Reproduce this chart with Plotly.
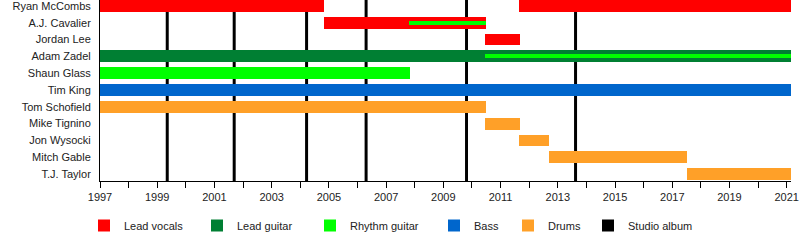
import plotly.graph_objects as go

# ---------------- data ----------------
members = ["Ryan McCombs", "A.J. Cavalier", "Jordan Lee", "Adam Zadel", "Shaun Glass",
           "Tim King", "Tom Schofield", "Mike Tignino", "Jon Wysocki", "Mitch Gable",
           "T.J. Taylor"]

START = 1997.0
END = 2021.15  # "present"

roles = ["Lead vocals", "Lead guitar", "Rhythm guitar", "Bass", "Drums"]
role_colors = ["#FF0000", "#007F33", "#00FF00", "#0066CC", "#FFA028"]

# main (thick) periods: member, start, end
vocal_member = ["Ryan McCombs", "A.J. Cavalier", "Jordan Lee", "Ryan McCombs"]
vocal_start = [1997.0, 2004.84, 2010.47, 2011.65]
vocal_end = [2004.84, 2010.48, 2011.67, END]

leadgtr_member = ["Adam Zadel"]
leadgtr_start = [1997.0]
leadgtr_end = [END]

rhythm_member = ["Shaun Glass"]
rhythm_start = [1997.0]
rhythm_end = [2007.83]

bass_member = ["Tim King"]
bass_start = [1997.0]
bass_end = [END]

drum_member = ["Tom Schofield", "Mike Tignino", "Jon Wysocki", "Mitch Gable", "T.J. Taylor"]
drum_start = [1997.0, 2010.47, 2011.65, 2012.69, 2017.5]
drum_end = [2010.48, 2011.67, 2012.69, 2017.5, END]

# secondary (thin) rhythm guitar periods
rhythm2_member = ["A.J. Cavalier", "Adam Zadel"]
rhythm2_start = [2007.8, 2010.47]
rhythm2_end = [2010.48, END]

albums = [1999.35, 2001.69, 2004.22, 2006.30, 2009.81, 2013.62]

tick_years = list(range(1997, 2022, 2))

legend_names = roles + ["Studio album"]
legend_colors = role_colors + ["#000000"]

# ---------------- figure ----------------
fig = go.Figure()

thick = [
    (vocal_member, vocal_start, vocal_end),
    (leadgtr_member, leadgtr_start, leadgtr_end),
    (rhythm_member, rhythm_start, rhythm_end),
    (bass_member, bass_start, bass_end),
    (drum_member, drum_start, drum_end),
]

legend_ids = ["legend"] + ["legend%d" % (i + 2) for i in range(len(legend_names) - 1)]

for i, (role, color, (mem, st, en)) in enumerate(zip(roles, role_colors, thick)):
    fig.add_trace(go.Bar(
        orientation="h", y=mem, base=st,
        x=[e - s for s, e in zip(st, en)],
        width=0.7, marker=dict(color=color, line=dict(width=0)),
        name=role, legendgroup=role, legend=legend_ids[i], hoverinfo="skip",
    ))

fig.add_trace(go.Bar(
    orientation="h", y=rhythm2_member, base=rhythm2_start,
    x=[e - s for s, e in zip(rhythm2_start, rhythm2_end)],
    width=0.235, marker=dict(color=role_colors[2], line=dict(width=0)),
    name="Rhythm guitar", legendgroup="Rhythm guitar", showlegend=False,
    hoverinfo="skip",
))

# legend entry for studio albums
fig.add_trace(go.Bar(
    orientation="h", y=[None], x=[None], marker=dict(color="#000000", line=dict(width=0)),
    name="Studio album", legend=legend_ids[5], hoverinfo="skip",
))

for a in albums:
    fig.add_shape(type="line", xref="x", yref="paper", x0=a, x1=a, y0=0, y1=1,
                  line=dict(color="#000000", width=3), layer="below")

# legend placement (left edge of each legend box, in pixels of the page)
plot_left, plot_w, plot_h = 100, 691, 183
legend_px = [84, 197, 310, 434, 508, 588]
legend_layout = {}
for lid, px in zip(legend_ids, legend_px):
    legend_layout[lid] = dict(
        orientation="h", x=(px - plot_left) / plot_w, xanchor="left",
        y=-0.246, yanchor="middle", font=dict(size=11, color="#222222"),
        bgcolor="rgba(0,0,0,0)",
    )

fig.update_layout(
    width=800, height=240,
    margin=dict(l=100, r=9, t=0, b=57),
    barmode="overlay",
    plot_bgcolor="white", paper_bgcolor="white",
    font=dict(family="Liberation Sans, Arial, sans-serif", size=11, color="#222222"),
    showlegend=True,
    bargap=0,
    **legend_layout,
)

fig.update_xaxes(
    range=[START, END], showgrid=False, zeroline=False,
    showline=True, linecolor="#000000", linewidth=1,
    tickmode="array", tickvals=tick_years, ticktext=[str(y) for y in tick_years],
    ticks="outside", ticklen=6, tickcolor="#000000", tickwidth=1,
    minor=dict(dtick=1, tick0=1997, ticks="outside", ticklen=6, tickcolor="#000000", tickwidth=1),
)
fig.update_yaxes(
    type="category", categoryorder="array", categoryarray=members,
    range=[len(members) - 1 + 0.41, -0.35],
    showgrid=False, zeroline=False,
    showline=True, linecolor="#000000", linewidth=1,
    ticks="outside", ticklen=6, tickcolor="rgba(0,0,0,0)",
)

fig.write_html("out.html")
